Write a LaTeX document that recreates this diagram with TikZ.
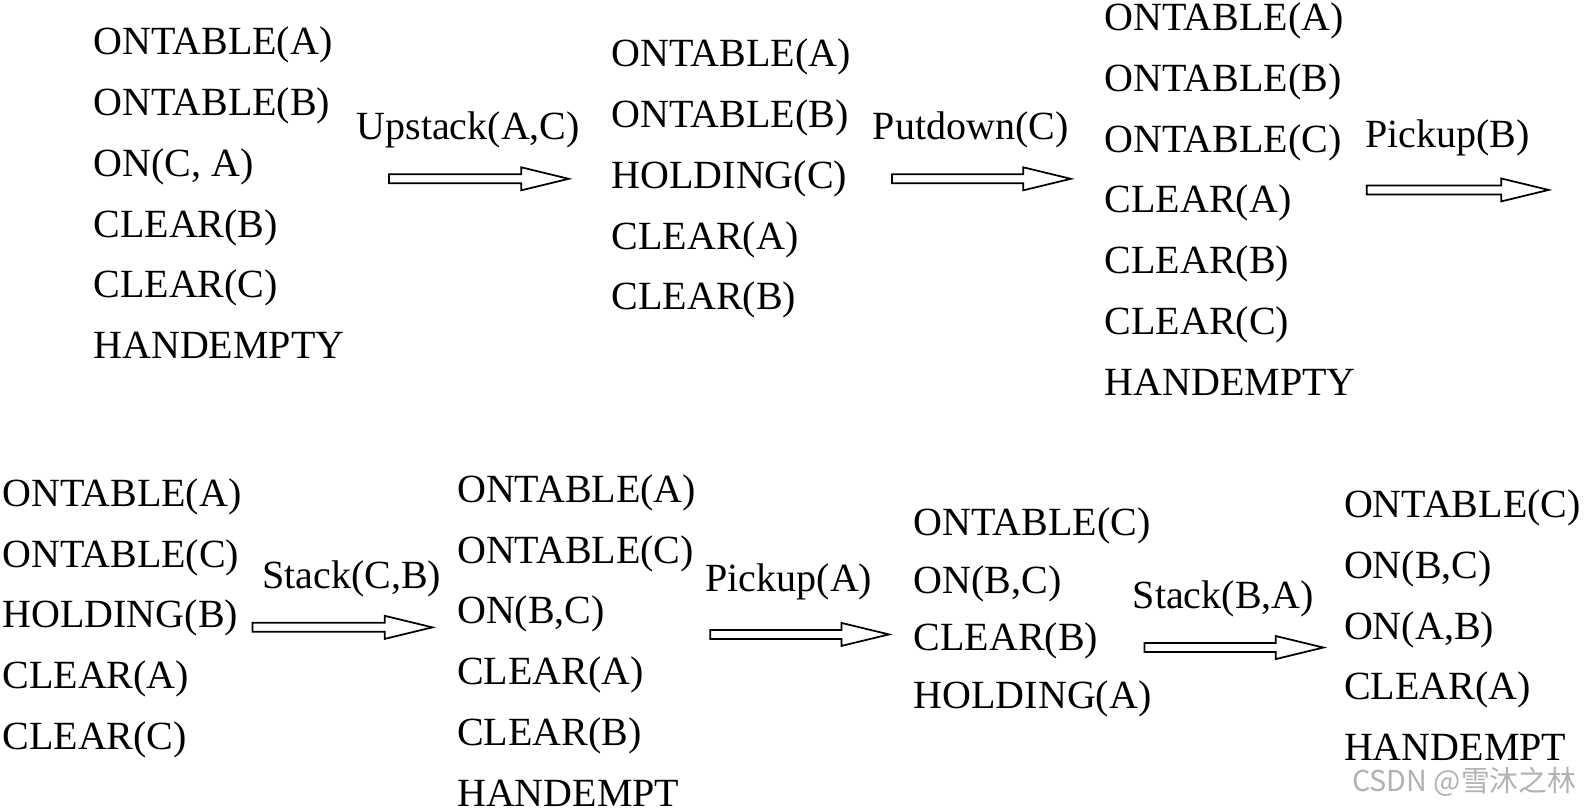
\documentclass[tikz,border=0pt]{standalone}
\usepackage{fontspec}
\setmainfont{Liberation Serif}
\newfontfamily\cjkfont{Noto Sans CJK SC}
\usetikzlibrary{calc}

\begin{document}
\begin{tikzpicture}[
      x=0.404pt, y=-0.404pt,
      state/.style  = {anchor=west, align=left, inner sep=0pt,
                       font=\fontsize{16}{24.3}\selectfont},
      act/.style    = {above=10pt, pos=0.6, inner sep=0pt,
                       font=\fontsize{16}{19}\selectfont},
      hollow/.style = {draw, line width=0.7pt, line join=miter,
        to path={let \p1=(\tikztostart), \p2=(\tikztotarget) in
          (\x1,\y1+1.8pt) -- (\x2-19pt,\y1+1.8pt) \tikztonodes
          -- (\x2-19pt,\y1+4.6pt) -- (\x2,\y1)
          -- (\x2-19pt,\y1-4.6pt) -- (\x2-19pt,\y1-1.8pt)
          -- (\x1,\y1-1.8pt) -- cycle}},
      wm/.style     = {anchor=west, inner sep=0pt, text=black!30,
                       font=\cjkfont\fontsize{11.5}{13}\selectfont},
    ]
    \useasboundingbox (0,0) rectangle (1568,803);

    % top row
    \node[state] (s1) at (92,191) {ONTABLE(A)\\ONTABLE(B)\\ON(C, A)\\CLEAR(B)\\CLEAR(C)\\HANDEMPTY};
    \node[state] (s2) at (605,177) {ONTABLE(A)\\ONTABLE(B)\\HOLDING(C)\\CLEAR(A)\\CLEAR(B)};
    \node[state] (s3) at (1093,197) {ONTABLE(A)\\ONTABLE(B)\\ONTABLE(C)\\CLEAR(A)\\CLEAR(B)\\CLEAR(C)\\HANDEMPTY};

    % bottom row
    \node[state] (s4) at (2,612) {ONTABLE(A)\\ONTABLE(C)\\HOLDING(B)\\CLEAR(A)\\CLEAR(C)};
    \node[state] (s5) at (452,634) {ONTABLE(A)\\ONTABLE(C)\\ON(B,C)\\CLEAR(A)\\CLEAR(B)\\HANDEMPT};
    \node[state, font=\fontsize{16}{23}\selectfont] (s6) at (904,606) {ONTABLE(C)\\ON(B,C)\\CLEAR(B)\\HOLDING(A)};
    \node[state] (s7) at (1330,619) {ONTABLE(C)\\ON(B,C)\\ON(A,B)\\CLEAR(A)\\HANDEMPT};

    \coordinate (a1s) at (385,177);  \coordinate (a1e) at (563,177);
    \coordinate (a2s) at (883,177);  \coordinate (a2e) at (1060,177);
    \coordinate (a3s) at (1353,188); \coordinate (a3e) at (1533,188);
    \coordinate (a4s) at (250,621);  \coordinate (a4e) at (428,621);
    \coordinate (a5s) at (703,628);  \coordinate (a5e) at (880,628);
    \coordinate (a6s) at (1133,641); \coordinate (a6e) at (1310,641);

    \draw[hollow] (a1s) to node[act]{Upstack(A,C)} (a1e);
    \draw[hollow] (a2s) to node[act]{Putdown(C)} (a2e);
    \draw[hollow] (a3s) to node[act, yshift=1.5pt]{Pickup(B)} (a3e);
    \draw[hollow] (a4s) to node[act, pos=0.75]{Stack(C,B)} (a4e);
    \draw[hollow] (a5s) to node[act, yshift=1.5pt]{Pickup(A)} (a5e);
    \draw[hollow] (a6s) to node[act]{Stack(B,A)} (a6e);

    \node[wm] (mark) at (1338,774) {CSDN @雪沐之林};
  \end{tikzpicture}
\end{document}
